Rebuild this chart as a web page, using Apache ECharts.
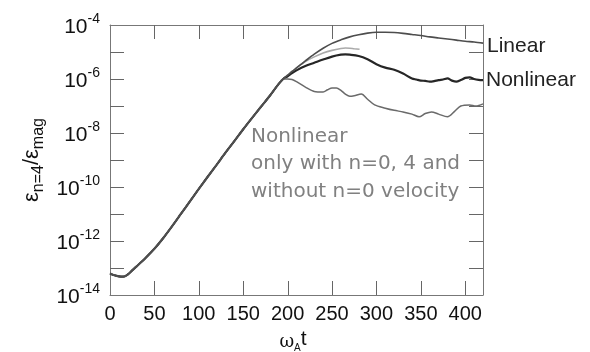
<!DOCTYPE html>
<html>
<head>
<meta charset="utf-8">
<script src="https://cdn.jsdelivr.net/npm/echarts@6/dist/echarts.min.js"></script>
</head>
<body style="margin:0;background:#fff">
<div id="main" style="width:590px;height:352px"></div>
<script>
// Time (omega_A t) and log10(energy ratio)
var trunkT = [0, 5, 10, 15, 20, 25, 30, 40, 50, 60, 70, 80, 90, 100, 110, 120, 130, 140, 150, 160, 170, 180, 190, 195];
var trunkE = [-13.20, -13.27, -13.31, -13.32, -13.24, -13.09, -12.94, -12.63, -12.29, -11.89, -11.45, -10.99, -10.53, -10.07, -9.62, -9.18, -8.73, -8.30, -7.86, -7.44, -7.03, -6.62, -6.18, -6.0];

var linearT = [200, 205, 210, 215, 220, 230, 240, 250, 260, 270, 280, 290, 300, 310, 320, 330, 340, 350, 360, 370, 380, 390, 400, 410, 420];
var linearE = [-5.86, -5.72, -5.59, -5.46, -5.33, -5.08, -4.86, -4.68, -4.55, -4.44, -4.36, -4.30, -4.27, -4.27, -4.28, -4.31, -4.35, -4.39, -4.44, -4.48, -4.52, -4.56, -4.60, -4.63, -4.67];

var lightT = [200, 205, 210, 215, 220, 230, 240, 250, 260, 265, 270, 275, 281];
var lightE = [-5.86, -5.72, -5.59, -5.46, -5.35, -5.18, -5.04, -4.94, -4.87, -4.85, -4.86, -4.88, -4.90];

var nonlinT = [200, 205, 210, 220, 230, 240, 250, 260, 265, 270, 280, 290, 300, 310, 320, 330, 340, 345, 350, 355, 360, 365, 370, 375, 380, 385, 390, 395, 400, 405, 410, 415, 420];
var nonlinE = [-5.90, -5.78, -5.68, -5.52, -5.40, -5.28, -5.17, -5.10, -5.09, -5.10, -5.15, -5.27, -5.45, -5.58, -5.66, -5.80, -5.98, -6.02, -6.06, -6.07, -6.10, -6.08, -6.04, -6.02, -5.98, -6.06, -6.10, -6.04, -5.96, -5.94, -6.0, -6.03, -6.04];

var n04T = [200, 205, 210, 220, 230, 240, 245, 250, 255, 260, 265, 270, 275, 283, 290, 298, 310, 320, 330, 340, 348, 355, 362, 370, 380, 388, 395, 405, 412, 420];
var n04E = [-6.0, -6.02, -6.10, -6.30, -6.46, -6.48, -6.40, -6.33, -6.33, -6.42, -6.56, -6.64, -6.62, -6.56, -6.75, -6.96, -7.08, -7.16, -7.22, -7.30, -7.40, -7.28, -7.22, -7.30, -7.40, -7.20, -7.0, -6.96, -7.0, -6.92];

var xTicks = [0, 50, 100, 150, 200, 250, 300, 350, 400];
var yExponents = [-14, -12, -10, -8, -6, -4];
var yTickExponents = [-13, -12, -11, -10, -9, -8, -7, -6, -5];
var xMin = 0, xMax = 420, yMin = -14, yMax = -4;

function pairs(tA, eA) {
  var out = [];
  for (var i = 0; i < tA.length; i++) out.push([tA[i], eA[i]]);
  return out;
}
function withTrunk(tA, eA) {
  return pairs(trunkT, trunkE).concat(pairs(tA, eA));
}
function crisp(v) { return Math.round(v) + 0.5; }
var tickLen = 14;
var tickCol = '#666';

// inward tick marks on bottom/top edges, placed with the axis scale
function renderXTick(params, api) {
  var x = crisp(api.coord([api.value(0), yMin])[0]);
  var yb = api.coord([xMin, yMin])[1];
  var yt = api.coord([xMin, yMax])[1];
  return {type: 'group', children: [
    {type: 'line', shape: {x1: x, y1: yb, x2: x, y2: yb - tickLen}, style: {stroke: tickCol, lineWidth: 1}},
    {type: 'line', shape: {x1: x, y1: yt, x2: x, y2: yt + tickLen}, style: {stroke: tickCol, lineWidth: 1}}
  ]};
}
// inward tick marks on left/right edges
function renderYTick(params, api) {
  var y = crisp(api.coord([xMin, api.value(1)])[1]);
  var xl = api.coord([xMin, yMin])[0];
  var xr = api.coord([xMax, yMin])[0];
  return {type: 'group', children: [
    {type: 'line', shape: {x1: xl, y1: y, x2: xl + tickLen, y2: y}, style: {stroke: tickCol, lineWidth: 1}},
    {type: 'line', shape: {x1: xr, y1: y, x2: xr - tickLen, y2: y}, style: {stroke: tickCol, lineWidth: 1}}
  ]};
}
function al() {
  return {show: true, onZero: false, lineStyle: {color: '#777'}};
}

var chart = echarts.init(document.getElementById('main'));
chart.setOption({
  animation: false,
  grid: {left: 110, right: 107, top: 25, bottom: 57},
  xAxis: [{
    type: 'value', min: xMin, max: xMax, interval: 50,
    axisLine: al(), axisTick: {show: false}, splitLine: {show: false},
    axisLabel: {
      margin: 9, fontSize: 20, color: '#111', fontFamily: 'Liberation Sans',
      formatter: function (v) { return xTicks.indexOf(v) >= 0 ? String(v) : ''; }
    }
  }, {
    type: 'value', min: xMin, max: xMax, interval: 50, position: 'top',
    axisLine: al(), axisTick: {show: false}, axisLabel: {show: false}, splitLine: {show: false}
  }],
  yAxis: [{
    type: 'value', min: yMin, max: yMax, interval: 1,
    axisLine: al(), axisTick: {show: false}, splitLine: {show: false},
    axisLabel: {
      margin: 10, color: '#111', fontFamily: 'Liberation Sans',
      formatter: function (v) {
        return yExponents.indexOf(v) >= 0 ? '{b|10}{s|' + v + '}' : '';
      },
      rich: {
        b: {fontSize: 21, fontFamily: 'Liberation Sans', color: '#111', verticalAlign: 'bottom'},
        s: {fontSize: 14, fontFamily: 'Liberation Sans', color: '#111', verticalAlign: 'top', padding: [0, 0, 12, 0]}
      }
    }
  }, {
    type: 'value', min: yMin, max: yMax, interval: 1, position: 'right',
    axisLine: al(), axisTick: {show: false}, axisLabel: {show: false}, splitLine: {show: false}
  }],
  series: [{
    name: 'xticks', type: 'custom', renderItem: renderXTick, silent: true,
    data: xTicks.slice(1).map(function (v) { return [v, yMin]; })
  }, {
    name: 'yticks', type: 'custom', renderItem: renderYTick, silent: true,
    data: yTickExponents.map(function (v) { return [xMin, v]; })
  }, {
    name: 'light', type: 'line', showSymbol: false, smooth: 0.3,
    lineStyle: {color: '#aaaaaa', width: 1.6},
    data: withTrunk(lightT, lightE)
  }, {
    name: 'Nonlinear', type: 'line', showSymbol: false, smooth: 0.3,
    lineStyle: {color: '#262626', width: 2.2},
    data: withTrunk(nonlinT, nonlinE)
  }, {
    name: 'n04', type: 'line', showSymbol: false, smooth: 0.3,
    lineStyle: {color: '#6a6a6a', width: 1.5},
    data: withTrunk(n04T, n04E)
  }, {
    name: 'Linear', type: 'line', showSymbol: false, smooth: 0.3,
    lineStyle: {color: '#4d4d4d', width: 1.6},
    data: withTrunk(linearT, linearE)
  }],
  graphic: [{
    type: 'text', left: 487, top: 36,
    style: {text: 'Linear', font: '21px "Liberation Sans"', fill: '#222'}
  }, {
    type: 'text', left: 486, top: 70,
    style: {text: 'Nonlinear', font: '21px "Liberation Sans"', fill: '#222'}
  }, {
    type: 'text', left: 251, top: 123,
    style: {
      text: 'Nonlinear\nonly with n=0, 4 and\nwithout n=0 velocity',
      font: '20px "DejaVu Sans"', fill: '#808080', lineHeight: 27.5
    }
  }, {
    type: 'text', x: 34, y: 160, rotation: Math.PI / 2,
    style: {
      text: '{e|ε}{n|n=4}{e|/ε}{n|mag}',
      align: 'center', verticalAlign: 'middle',
      rich: {
        e: {fontSize: 22, fontFamily: 'Liberation Sans', fill: '#111', verticalAlign: 'top'},
        n: {fontSize: 16, fontFamily: 'Liberation Sans', fill: '#111', verticalAlign: 'top', padding: [10, 0, 0, 0]}
      }
    }
  }, {
    type: 'text', x: 293, y: 341,
    style: {
      text: '{w|ω}{a|A}{t|t}',
      align: 'center', verticalAlign: 'middle',
      rich: {
        w: {fontSize: 18, fontFamily: 'DejaVu Serif', fill: '#111', verticalAlign: 'bottom', padding: [0, 0, 2, 0]},
        a: {fontSize: 10, fontFamily: 'Liberation Sans', fill: '#111', verticalAlign: 'bottom'},
        t: {fontSize: 21, fontFamily: 'Liberation Sans', fill: '#111', verticalAlign: 'bottom', padding: [0, 0, 4, 0]}
      }
    }
  }]
});
</script>
</body>
</html>
